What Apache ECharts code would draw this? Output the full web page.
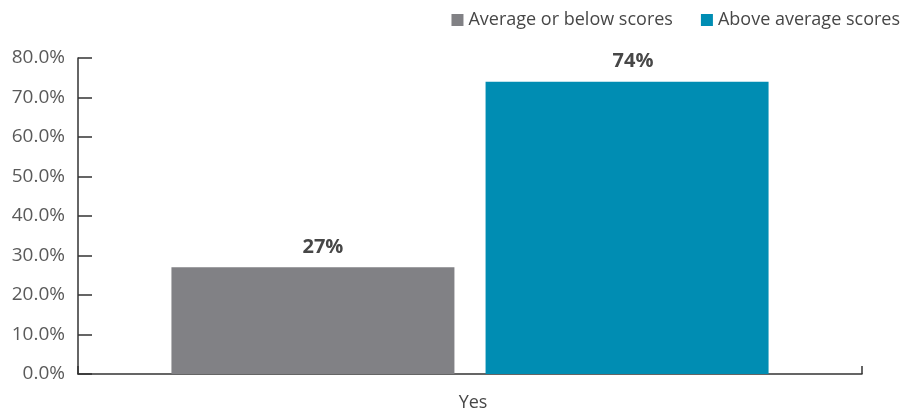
<!DOCTYPE html>
<html>
<head>
<meta charset="utf-8">
<script src="https://cdn.jsdelivr.net/npm/echarts@6/dist/echarts.min.js"></script>
<style>
  html, body { margin: 0; padding: 0; background: #fff; }
  #chart { width: 906px; height: 415px; }
</style>
</head>
<body>
<div id="chart"></div>
<script>
const categories = ['Yes']
const seriesNames = ['Average or below scores', 'Above average scores']
const belowValues = [27]
const aboveValues = [74]
const colors = ['#818185', '#008db3']
const font = '"Open Sans", "Noto Sans", sans-serif'

var myChart = echarts.init(document.getElementById('chart'))

const barLabel = (dx) => ({
  show: true,
  position: 'top',
  distance: 10,
  offset: [dx, 0],
  fontSize: 20,
  fontWeight: 'bold',
  color: '#474747',
  fontFamily: font,
  formatter: (p) => p.value + '%'
})

myChart.setOption({
  animation: false,
  color: colors,
  textStyle: { fontFamily: font },
  legend: {
    data: seriesNames,
    top: 6,
    right: 1,
    itemWidth: 12,
    itemHeight: 12,
    itemGap: 28,
    icon: 'rect',
    textStyle: { fontSize: 18, color: '#474747', fontFamily: font }
  },
  grid: {
    left: 78,
    right: 44,
    top: 58,
    bottom: 41,
    containLabel: false
  },
  xAxis: {
    type: 'category',
    data: categories,
    axisLine: { lineStyle: { color: '#333', width: 1.5 } },
    axisTick: { show: true, inside: true, length: 8, lineStyle: { color: '#333', width: 1.5 } },
    axisLabel: { fontSize: 18, color: '#474747', margin: 20, fontFamily: font, padding: [0, 0, 0, 6] }
  },
  yAxis: {
    type: 'value',
    min: 0,
    max: 80,
    interval: 10,
    splitLine: { show: false },
    axisLine: { show: true, lineStyle: { color: '#333', width: 1.5 } },
    axisTick: { show: true, inside: true, length: 14, lineStyle: { color: '#333', width: 1.5 } },
    axisLabel: {
      fontSize: 19,
      color: '#5a5a5a',
      margin: 13,
      fontFamily: font,
      formatter: (v) => v.toFixed(1) + '%'
    }
  },
  series: [
    {
      name: seriesNames[0],
      type: 'bar',
      barWidth: 283,
      barGap: '11%',
      data: belowValues,
      label: barLabel(10)
    },
    {
      name: seriesNames[1],
      type: 'bar',
      barWidth: 283,
      barGap: '11%',
      data: aboveValues,
      label: barLabel(6)
    }
  ]
})
</script>
</body>
</html>
